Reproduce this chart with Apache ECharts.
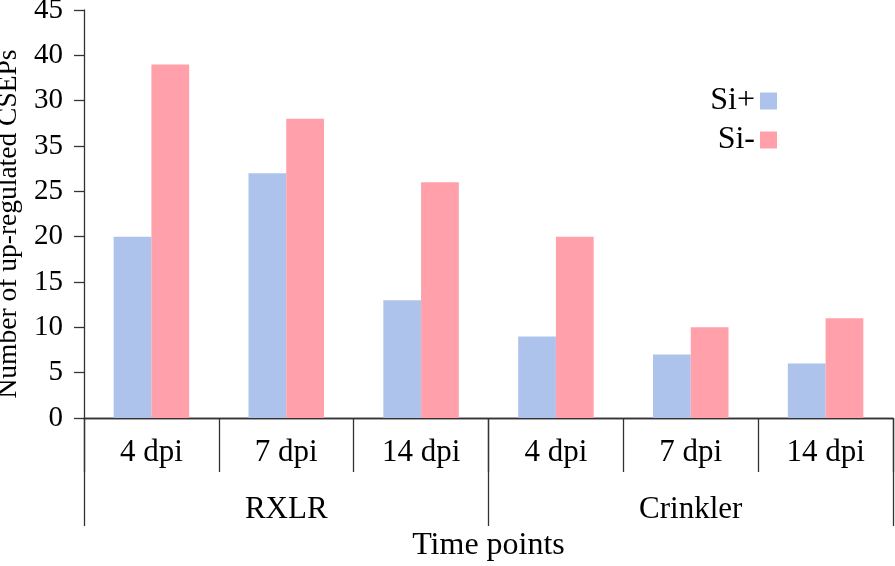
<!DOCTYPE html>
<html><head><meta charset="utf-8">
<script src="https://cdn.jsdelivr.net/npm/echarts@6/dist/echarts.min.js"></script>
<style>html,body{margin:0;padding:0;background:#fff}#c{width:895px;height:566px}</style>
</head><body><div id="c"></div>
<script>
const timePoints = ['4 dpi','7 dpi','14 dpi','4 dpi','7 dpi','14 dpi'];
const groups = ['RXLR','Crinkler'];
const siPlus = [20, 27, 13, 9, 7, 6];
const siMinus = [39, 33, 26, 20, 10, 11];
const yTickLabels = ['0','5','10','15','20','25','35','30','40','45'];
const font = 'Liberation Serif';
const chart = echarts.init(document.getElementById('c'));
chart.setOption({
  animation:false,
  textStyle:{fontFamily:font,color:'#000'},
  grid:{left:84,right:2,top:10,bottom:148,containLabel:false,outerBoundsMode:'none'},
  legend:{
    data:['Si+','Si-'], orient:'vertical', right:118, top:85, align:'right',
    itemWidth:17, itemHeight:17, itemGap:7, icon:'rect', padding:0,
    textStyle:{fontFamily:font,fontSize:32,color:'#000'}
  },
  xAxis:[{
    type:'category', data:timePoints, position:'bottom',
    axisLine:{lineStyle:{color:'#333',width:1.3}},
    axisTick:{show:true,length:54,alignWithLabel:false,lineStyle:{color:'#333',width:1.3}},
    axisLabel:{fontFamily:font,fontSize:31,color:'#000',margin:19}
  },{
    type:'category', data:groups, position:'bottom',
    axisLine:{show:true,lineStyle:{color:'#333',width:1.3}},
    axisTick:{show:true,length:108,alignWithLabel:false,lineStyle:{color:'#333',width:1.3}},
    axisLabel:{fontFamily:font,fontSize:31,color:'#000',margin:76},
    name:'Time points', nameLocation:'middle', nameGap:112,
    nameTextStyle:{fontFamily:font,fontSize:32,color:'#000'}
  }],
  yAxis:{
    type:'value', min:0, max:45, interval:5,
    name:'Number of up-regulated CSEPs', nameLocation:'middle', nameGap:56,
    nameTextStyle:{fontFamily:font,fontSize:27.5,color:'#000',padding:[0,20,0,0]},
    axisLine:{show:true,lineStyle:{color:'#333',width:1.3}},
    axisTick:{show:true,length:10,lineStyle:{color:'#333',width:1.3}},
    splitLine:{show:false},
    axisLabel:{fontFamily:font,fontSize:29,color:'#000',margin:21,
      formatter:function(v){return yTickLabels[Math.round(v/5)];}}
  },
  series:[
    {name:'Si+',type:'bar',data:siPlus,xAxisIndex:0,barGap:'0%',barCategoryGap:'44%',itemStyle:{color:'#aec3ec'}},
    {name:'Si-',type:'bar',data:siMinus,xAxisIndex:0,barGap:'0%',barCategoryGap:'44%',itemStyle:{color:'#ffa0aa'}}
  ]
});
</script></body></html>
